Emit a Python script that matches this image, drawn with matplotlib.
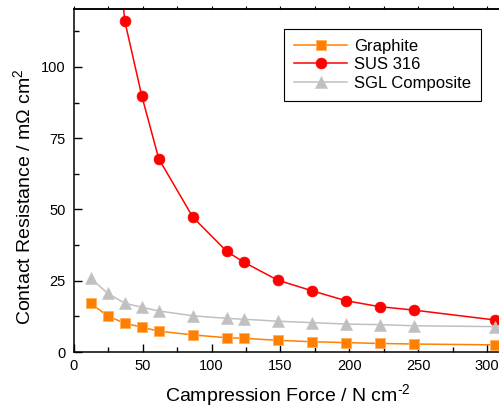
import matplotlib.pyplot as plt
from matplotlib.ticker import MultipleLocator

plt.rcParams['font.family'] = ['Liberation Sans', 'DejaVu Sans']
plt.rcParams['mathtext.fontset'] = 'custom'
plt.rcParams['mathtext.rm'] = 'Liberation Sans'
plt.rcParams['mathtext.it'] = 'Liberation Sans'

force = [12.3, 24.7, 37.0, 49.4, 61.7, 86.4, 111.0, 123.4, 148.0, 172.7, 197.4, 222.0, 246.8, 306.0]
graphite = [17.1, 12.6, 10.1, 8.7, 7.3, 6.0, 5.0, 4.8, 4.1, 3.6, 3.3, 3.0, 2.8, 2.5]
sus316 = [360.0, 180.0, 116.2, 89.8, 67.8, 47.3, 35.3, 31.5, 25.2, 21.5, 18.0, 15.9, 14.7, 11.2]
sgl = [25.8, 20.6, 17.1, 15.7, 14.4, 12.7, 11.8, 11.5, 10.8, 10.3, 9.8, 9.6, 9.2, 8.9]

fig = plt.figure(figsize=(4.99, 4.15), dpi=100)
ax = fig.add_axes([73.7 / 499, 63 / 415, (501 - 73.7) / 499, 343 / 415])

ax.plot(force, graphite, '-s', color='#ff8000', lw=1.1, ms=6.8,
        mec='#ffb060', mew=0.7, label='Graphite')
ax.plot(force, sus316, '-o', color='#ff0000', lw=1.1, ms=7.8,
        mec='#ff0000', mew=0.5, label='SUS 316')
ax.plot(force, sgl, '-^', color='#c0c0c0', lw=1.1, ms=8.2,
        mec='#c8c8c8', mew=0.5, label='SGL Composite')

ax.set_xlim(0, 310)
ax.set_ylim(0, 120.3)
ax.xaxis.set_major_locator(MultipleLocator(50))
ax.xaxis.set_minor_locator(MultipleLocator(25))
ax.yaxis.set_major_locator(MultipleLocator(25))
ax.yaxis.set_minor_locator(MultipleLocator(12.5))

for s in ax.spines.values():
    s.set_linewidth(1.1)

ax.tick_params(axis='both', which='both', direction='in', labelsize=10.5, width=1.0)
ax.tick_params(axis='both', which='major', length=6, pad=6)
ax.tick_params(axis='both', which='minor', length=3.5)
ax.tick_params(axis='x', which='major', pad=5)

# short outward ticks along the top edge
top = ax.secondary_xaxis('top')
top.xaxis.set_major_locator(MultipleLocator(50))
top.xaxis.set_minor_locator(MultipleLocator(25))
top.tick_params(which='both', direction='out', length=2.5, width=0.8, labeltop=False)
top.spines['top'].set_linewidth(1.1)

ax.set_xlabel('Campression Force / N cm$^{\\text{-2}}$', fontsize=14)
ax.set_ylabel('Contact Resistance / m\u03a9 cm$^{2}$', fontsize=14)
ax.xaxis.set_label_coords(0.5, -0.088)
ax.yaxis.set_label_coords(-0.092, 0.452)

leg = ax.legend(loc='upper left', bbox_to_anchor=((284 - 73.7) / 427.3, (352 - 29) / 343),
                fontsize=12, frameon=True, fancybox=False, framealpha=1,
                edgecolor='black', handlelength=3.2, handletextpad=0.4,
                labelspacing=0.2, borderpad=0.6, borderaxespad=0)
leg.get_frame().set_linewidth(0.8)

fig.savefig('out.png', dpi=100)
